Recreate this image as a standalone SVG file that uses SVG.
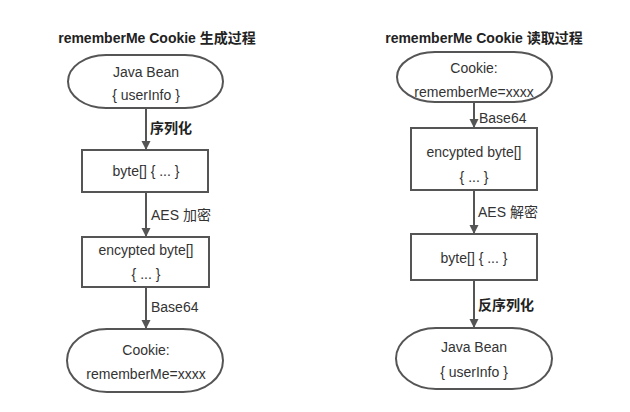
<svg xmlns="http://www.w3.org/2000/svg" width="630" height="412" viewBox="0 0 630 412">
<defs>
<style>
.t{font-family:"Liberation Sans","Noto Sans CJK SC",sans-serif;font-size:14px;fill:#333;}
.c{text-anchor:middle;}
.b{font-weight:bold;fill:#222;}
.n{fill:#fff;stroke:#555;stroke-width:2;}
.e{stroke:#555;stroke-width:2;fill:none;}
</style>
<marker id="ah" markerWidth="10" markerHeight="10" refX="9" refY="5" orient="auto" markerUnits="userSpaceOnUse">
<path d="M0,0.5 L9,5 L0,9.5 Z" fill="#555"/>
</marker>
</defs>
<rect width="630" height="412" fill="#fff"/>
<text class="t b c" x="157" y="43">rememberMe Cookie 生成过程</text>
<text class="t b c" x="484" y="43">rememberMe Cookie 读取过程</text>
<g id="connectors">
<line class="e" x1="146" y1="109" x2="146" y2="150" marker-end="url(#ah)"/>
<line class="e" x1="146" y1="192" x2="146" y2="237" marker-end="url(#ah)"/>
<line class="e" x1="146" y1="287" x2="146" y2="329" marker-end="url(#ah)"/>
<line class="e" x1="474" y1="103" x2="474" y2="128" marker-end="url(#ah)"/>
<line class="e" x1="474" y1="190" x2="474" y2="234" marker-end="url(#ah)"/>
<line class="e" x1="474" y1="280" x2="474" y2="328" marker-end="url(#ah)"/>
<text class="t b" x="150" y="133">序列化</text>
<text class="t" x="151" y="220">AES 加密</text>
<text class="t" x="151" y="312">Base64</text>
<text class="t" x="479" y="123">Base64</text>
<text class="t" x="478" y="217">AES 解密</text>
<text class="t b" x="478" y="310">反序列化</text>
</g>
<g id="l1"><rect class="n" x="68" y="55" width="155" height="53" rx="38" ry="26.5"/>
<text class="t c" x="146" y="77">Java Bean</text><text class="t c" x="146" y="100">{ userInfo }</text></g>
<g id="l2"><rect class="n" x="82" y="150" width="126" height="42"/>
<text class="t c" x="146" y="176">byte[] { ... }</text></g>
<g id="l3"><rect class="n" x="82" y="237" width="127" height="50"/>
<text class="t c" x="146" y="255">encypted byte[]</text><text class="t c" x="146" y="279">{ ... }</text></g>
<g id="l4"><rect class="n" x="67" y="329" width="156" height="63" rx="40" ry="31.5"/>
<text class="t c" x="146" y="355">Cookie:</text><text class="t c" x="146" y="379">rememberMe=xxxx</text></g>
<g id="r1"><rect class="n" x="397" y="52" width="155" height="50" rx="38" ry="25"/>
<text class="t c" x="474" y="73">Cookie:</text><text class="t c" x="474" y="97">rememberMe=xxxx</text></g>
<g id="r2"><rect class="n" x="411" y="128" width="126" height="62"/>
<text class="t c" x="474" y="157">encypted byte[]</text><text class="t c" x="474" y="182">{ ... }</text></g>
<g id="r3"><rect class="n" x="411" y="234" width="126" height="46"/>
<text class="t c" x="474" y="263">byte[] { ... }</text></g>
<g id="r4"><rect class="n" x="396" y="328" width="156" height="61" rx="40" ry="30.5"/>
<text class="t c" x="474" y="352">Java Bean</text><text class="t c" x="474" y="377">{ userInfo }</text></g>
</svg>
